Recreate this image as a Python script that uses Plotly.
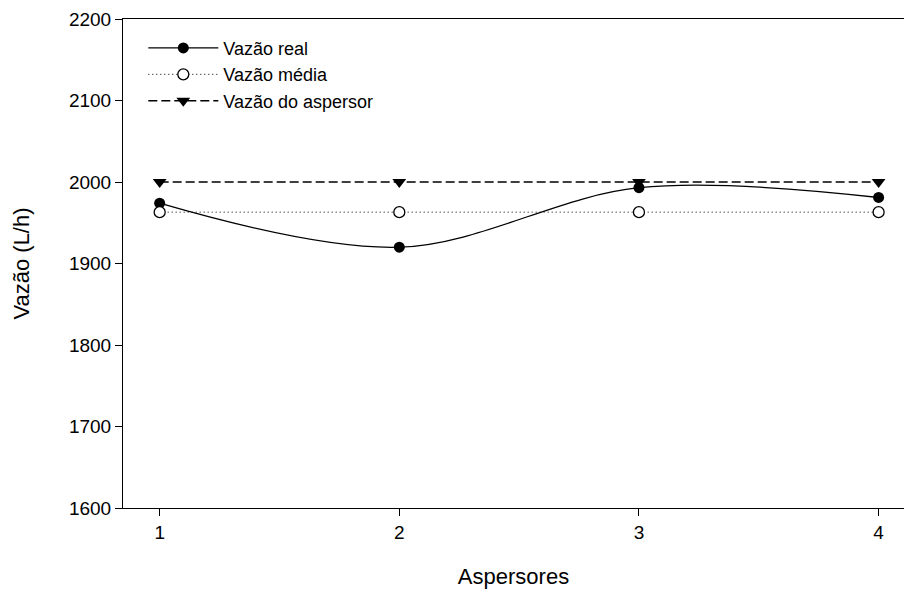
import plotly.graph_objects as go

aspersores = [1, 2, 3, 4]
vazao_real = [1974, 1920, 1993, 1981]
vazao_media = [1963, 1963, 1963, 1963]
vazao_aspersor = [2000, 2000, 2000, 2000]

yticks = [1600, 1700, 1800, 1900, 2000, 2100, 2200]

FONT = "Liberation Sans, Arial, sans-serif"

fig = go.Figure()
fig.add_trace(go.Scatter(
    x=aspersores, y=vazao_real, name="Vazão real", mode="lines+markers",
    line=dict(color="black", width=1.3, shape="spline", smoothing=1.0),
    marker=dict(symbol="circle", size=11, color="black"),
))
fig.add_trace(go.Scatter(
    x=aspersores, y=vazao_media, name="Vazão média", mode="lines+markers",
    line=dict(color="black", width=1, dash="1px,3px"),
    marker=dict(symbol="circle", size=11, color="white", line=dict(color="black", width=1.3)),
))
fig.add_trace(go.Scatter(
    x=aspersores, y=vazao_aspersor, name="Vazão do aspersor", mode="lines+markers",
    line=dict(color="black", width=1.3, dash="9px,4px"),
    marker=dict(symbol="triangle-down", size=12, color="black"),
))

fig.update_layout(
    width=904, height=590,
    margin=dict(l=123, r=0, t=19, b=82),
    paper_bgcolor="white", plot_bgcolor="white",
    font=dict(family=FONT, color="black", size=19),
    showlegend=True,
    legend=dict(
        x=0.026, y=0.978, xanchor="left", yanchor="top",
        bgcolor="rgba(0,0,0,0)", borderwidth=0,
        font=dict(size=18, family=FONT), itemwidth=70,
        tracegroupgap=0,
    ),
    xaxis=dict(
        range=[0.847, 4.106], tickvals=aspersores, ticktext=[str(a) for a in aspersores],
        showgrid=False, zeroline=False, showline=True, linecolor="black", linewidth=1,
        mirror=True, ticks="outside", ticklen=7, tickcolor="black", tickwidth=1,
        tickfont=dict(size=19, family=FONT),
        title=dict(text="Aspersores", font=dict(size=22, family=FONT), standoff=26),
    ),
    yaxis=dict(
        range=[1600, 2200], tickvals=yticks,
        showgrid=False, zeroline=False, showline=True, linecolor="black", linewidth=1,
        mirror=False, ticks="outside", ticklen=7, tickcolor="black", tickwidth=1,
        tickfont=dict(size=19, family=FONT),
        title=dict(text="Vazão (L/h)", font=dict(size=22, family=FONT), standoff=33),
    ),
)

fig.write_html("out.html")
